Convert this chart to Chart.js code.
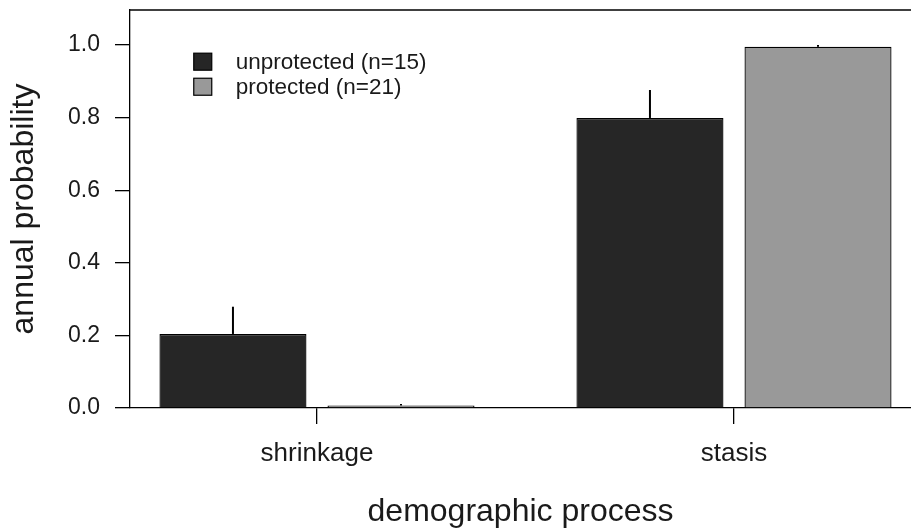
<!DOCTYPE html>
<html>
<head>
<meta charset="utf-8">
<script src="https://cdn.jsdelivr.net/npm/chart.js@4/dist/chart.umd.min.js"></script>
<style>
  html, body { margin: 0; padding: 0; background: #ffffff; overflow: hidden; }
  #wrap { width: 911px; height: 532px; position: relative; }
</style>
</head>
<body>
<div id="wrap"><canvas id="c" width="911" height="532"></canvas></div>
<script>
// ---- data ----
const categories = ['shrinkage', 'stasis'];
const seriesNames = ['unprotected (n=15)', 'protected (n=21)'];
const unprotectedValues = [0.204, 0.799];
const protectedValues = [0.007, 0.995];
const unprotectedUpper = [0.279, 0.876];
const protectedUpper = [0.011, 1.000];
const yTickValues = [0.0, 0.2, 0.4, 0.6, 0.8, 1.0];

const FONT = "'Liberation Sans', Arial, Helvetica, sans-serif";
const colors = ['#262626', '#999999'];

function toPoints(vals) { return vals.map((v, i) => ({ x: i + 1, y: v })); }

const errorBars = {
  id: 'errorBars',
  afterDatasetsDraw(chart) {
    const ctx = chart.ctx;
    const y = chart.scales.y;
    const uppers = [unprotectedUpper, protectedUpper];
    ctx.save();
    ctx.strokeStyle = '#000';
    ctx.lineWidth = 2;
    chart.data.datasets.forEach((ds, di) => {
      const meta = chart.getDatasetMeta(di);
      meta.data.forEach((bar, i) => {
        ctx.beginPath();
        ctx.moveTo(bar.x, y.getPixelForValue(ds.data[i].y));
        ctx.lineTo(bar.x, y.getPixelForValue(uppers[di][i]));
        ctx.stroke();
      });
    });
    ctx.restore();
  }
};

const frame = {
  id: 'frame',
  afterDraw(chart) {
    const { ctx, chartArea } = chart;
    ctx.save();
    ctx.strokeStyle = '#000';
    ctx.lineWidth = 1.3;
    ctx.beginPath();
    ctx.moveTo(chartArea.left, chartArea.top);
    ctx.lineTo(chart.width, chartArea.top);
    ctx.stroke();
    ctx.restore();
  }
};

const boxLegend = {
  id: 'boxLegend',
  afterDraw(chart) {
    const ctx = chart.ctx;
    const x = chart.scales.x, y = chart.scales.y;
    const bx = x.getPixelForValue(0.7045);
    const rowY = [y.getPixelForValue(0.954), y.getPixelForValue(0.885)];
    ctx.save();
    ctx.font = '22.5px ' + FONT;
    ctx.textBaseline = 'middle';
    ctx.textAlign = 'left';
    chart.data.datasets.forEach((ds, i) => {
      ctx.fillStyle = ds.backgroundColor;
      ctx.fillRect(bx, rowY[i] - 8.5, 18, 17);
      ctx.strokeStyle = '#000';
      ctx.lineWidth = 1.2;
      ctx.strokeRect(bx, rowY[i] - 8.5, 18, 17);
      ctx.fillStyle = '#1a1a1a';
      ctx.fillText(ds.label, bx + 42, rowY[i] + 1);
    });
    ctx.restore();
  }
};

new Chart(document.getElementById('c'), {
  type: 'bar',
  data: {
    datasets: [
      { label: seriesNames[0], data: toPoints(unprotectedValues), backgroundColor: colors[0], borderColor: '#000', borderWidth: 1.3 },
      { label: seriesNames[1], data: toPoints(protectedValues), backgroundColor: colors[1], borderColor: '#000', borderWidth: 1.3 }
    ]
  },
  options: {
    responsive: false,
    animation: false,
    devicePixelRatio: 1,
    layout: { padding: { top: 10, left: 0, right: 0, bottom: 0 } },
    categoryPercentage: 0.806,
    barPercentage: 0.875,
    plugins: { legend: { display: false }, tooltip: { enabled: false } },
    scales: {
      x: {
        type: 'linear',
        offset: false,
        min: 0.5516,
        max: 2.4245,
        afterBuildTicks(scale) { scale.ticks = categories.map((c, i) => ({ value: i + 1 })); },
        afterFit(scale) { scale.height = 124; scale.paddingLeft = 0; scale.paddingRight = 0; },
        ticks: {
          callback: (v) => categories[Math.round(v) - 1] || '',
          font: { family: FONT, size: 26 },
          color: '#1a1a1a',
          padding: 14,
          maxRotation: 0,
          autoSkip: false
        },
        grid: { offset: false, drawOnChartArea: false, drawTicks: true, tickLength: 16, color: '#000', lineWidth: 1.3 },
        border: { display: true, color: '#000', width: 1.3 },
        title: { display: true, text: 'demographic process', font: { family: FONT, size: 32 }, color: '#1a1a1a', padding: { top: 0, bottom: 1 } }
      },
      y: {
        min: 0,
        max: 1.0964,
        afterBuildTicks(scale) { scale.ticks = yTickValues.map(v => ({ value: v })); },
        afterFit(scale) { scale.width = 130; scale.paddingTop = 0; scale.paddingBottom = 0; },
        ticks: {
          callback: (v) => v.toFixed(1),
          font: { family: FONT, size: 23 },
          color: '#1a1a1a',
          padding: 15
        },
        grid: { drawOnChartArea: false, drawTicks: true, tickLength: 15, color: '#000', lineWidth: 1.3 },
        border: { display: true, color: '#000', width: 1.3 },
        title: { display: true, text: 'annual probability', font: { family: FONT, size: 32 }, color: '#1a1a1a', padding: { top: 5, bottom: 0 } }
      }
    }
  },
  plugins: [errorBars, frame, boxLegend]
});
</script>
</body>
</html>
